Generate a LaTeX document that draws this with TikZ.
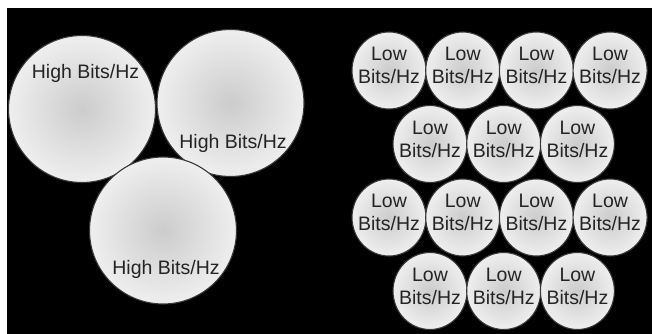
\documentclass[tikz,border=0pt]{standalone}
\usepackage{fontspec}
\setmainfont{Liberation Sans}
\usetikzlibrary{shapes.geometric}
\definecolor{ballin}{gray}{0.80}
\definecolor{ballmid}{gray}{0.935}
\definecolor{ballout}{gray}{0.975}
\definecolor{rim}{gray}{0.22}
\definecolor{txt}{gray}{0.14}
\pgfdeclareradialshading{ballshade}{\pgfpoint{0bp}{0bp}}{color(0bp)=(ballin); color(25bp)=(ballmid); color(50bp)=(ballout)}
\tikzset{
  bigball/.style={circle, draw=rim, line width=1.1pt, shade, shading=ballshade, inner sep=0pt, outer sep=0pt, minimum size=147pt},
  smallball/.style={ellipse, draw=rim, line width=1.1pt, shade, shading=ballshade, inner sep=0pt, outer sep=0pt, minimum width=74pt, minimum height=77pt},
  lbl/.style={anchor=base, inner sep=0pt, text=txt, font=\fontsize{19.5}{23}\selectfont}
}
\begin{document}
\begin{tikzpicture}[x=1pt,y=-1pt]
\useasboundingbox (0,0) rectangle (652,334);
\fill[white] (0,0) rectangle (652,334);
\fill[black] (7,8) rectangle (652,334);
% big circles
\node[bigball] (h1) at (82,109) {};
\node[bigball] (h2) at (230.5,103) {};
\node[bigball] (h3) at (163,230.5) {};
\node[lbl] (t1) at (85.5,79) {High Bits/Hz};
\node[lbl] (t2) at (233,148) {High Bits/Hz};
\node[lbl] (t3) at (166,274) {High Bits/Hz};
% small circles
\foreach \r/\y in {1/70.5,3/217.5}{
  \foreach \c/\x in {1/389,2/462.7,3/536.4,4/610.1}{
    \node[smallball] (s\r\c) at (\x,\y) {};
    \node[lbl] (a\r\c) at ([yshift=10pt]s\r\c.center) {Low};
    \node[lbl] (b\r\c) at ([yshift=-13pt]s\r\c.center) {Bits/Hz};
  }
}
\foreach \r/\y in {2/144,4/291}{
  \foreach \c/\x in {1/430,2/503.7,3/577.4}{
    \node[smallball] (s\r\c) at (\x,\y) {};
    \node[lbl] (a\r\c) at ([yshift=10pt]s\r\c.center) {Low};
    \node[lbl] (b\r\c) at ([yshift=-13pt]s\r\c.center) {Bits/Hz};
  }
}
\end{tikzpicture}
\end{document}
